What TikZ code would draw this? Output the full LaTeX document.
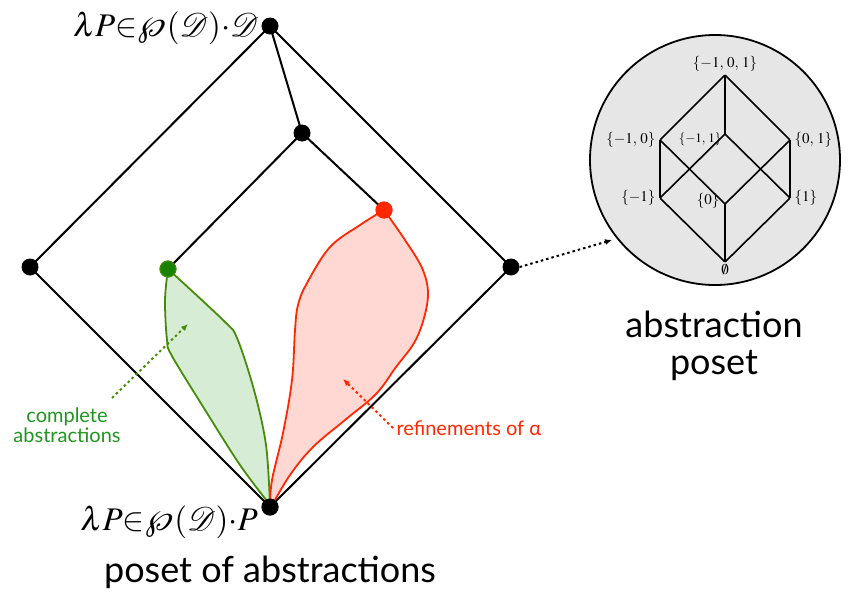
\documentclass[tikz,border=0pt]{standalone}
\usepackage{mathptmx}
\usepackage[no-math]{fontspec}
\setsansfont{Lato}
\usetikzlibrary{arrows.meta}
\definecolor{cgreen}{RGB}{70,140,10}
\definecolor{cgreenfill}{RGB}{214,236,212}
\definecolor{cgreentext}{RGB}{30,150,30}
\definecolor{cgreendot}{RGB}{25,130,0}
\definecolor{cred}{RGB}{255,40,0}
\definecolor{credfill}{RGB}{255,216,212}
\definecolor{cgray}{RGB}{230,230,230}
\tikzset{
  edge/.style={line width=2pt, black},
  dotnode/.style={circle, fill=black, inner sep=0pt, minimum size=17pt},
  cedge/.style={line width=1.6pt, black},
  vtx/.style={inner sep=0pt, minimum size=0pt},
  small/.style={font=\fontsize{15}{17}\selectfont},
  dotarrow/.style={line width=2pt, dash pattern=on 2.5pt off 3pt, -{Latex[length=7pt,width=6pt]}},
  big/.style={font=\sffamily\fontsize{36}{37}\selectfont, align=center},
  lbl/.style={font=\sffamily\fontsize{20}{24}\selectfont, align=center},
  mlabel/.style={font=\fontsize{33}{36}\selectfont, anchor=east, inner sep=0pt}
}
\begin{document}
\begin{tikzpicture}[x=1pt,y=-1pt]
\useasboundingbox (0,0) rectangle (848,592);
% regions
\fill[cgreenfill] plot[smooth, tension=0.55] coordinates {(270,505) (266,445) (254,390) (237,338) (224,321) (168,269)}
  -- plot[smooth, tension=0.55] coordinates {(168,269) (165,300) (167,340) (172,356) (207,413) (240,465) (270,505)} -- cycle;
\fill[credfill] plot[smooth, tension=0.6] coordinates {(270,507) (272,480) (283,433) (292,380) (295,330) (298,305) (307,283) (330,247) (360,225) (384,210)}
  -- plot[smooth, tension=0.6] coordinates {(384,210) (405,240) (422,268) (428,292) (424,318) (414,343) (396,367) (376,394) (345,420) (313,447) (290,475) (271,507)} -- cycle;
% nodes
\node[dotnode] (top) at (270,26) {};
\node[dotnode] (mid) at (302,133) {};
\node[dotnode] (left) at (30,267) {};
\node[dotnode] (right) at (511,267) {};
\node[dotnode] (bot) at (270,507) {};
\node[circle, fill=cgreendot, draw=cgreen, line width=1pt, inner sep=0pt, minimum size=16pt] (g) at (168,269) {};
\node[circle, fill=cred, inner sep=0pt, minimum size=17pt] (r) at (384,210) {};
% lattice edges
\draw[edge] (top.center) -- (left.center) -- (bot.center) -- (right.center) -- (top.center);
\draw[edge] (top.center) -- (mid.center);
\draw[edge] (mid.center) -- (g.center);
\draw[edge] (mid.center) -- (r.center);
% region outlines
\draw[cgreen, line width=1.8pt, line join=round] plot[smooth, tension=0.55] coordinates {(270,505) (266,445) (254,390) (237,338) (224,321) (168,269)}
  -- plot[smooth, tension=0.55] coordinates {(168,269) (165,300) (167,340) (172,356) (207,413) (240,465) (270,505)};
\draw[cred, line width=1.8pt, line join=round] plot[smooth, tension=0.6] coordinates {(270,507) (272,480) (283,433) (292,380) (295,330) (298,305) (307,283) (330,247) (360,225) (384,210)}
  -- plot[smooth, tension=0.6] coordinates {(384,210) (405,240) (422,268) (428,292) (424,318) (414,343) (396,367) (376,394) (345,420) (313,447) (290,475) (271,507)};
% redraw dots on top
\node[dotnode] at (bot) {};
\node[circle, fill=cgreendot, draw=cgreen, line width=1pt, inner sep=0pt, minimum size=16pt] at (g) {};
\node[circle, fill=cred, inner sep=0pt, minimum size=17pt] at (r) {};
% math labels
\node[mlabel] (tl) at (259,28) {$\lambda P{\in}\wp\mkern2mu(\mathcal{D}){\cdot}\mathcal{D}$};
\node[mlabel] (bl) at (258,522) {$\lambda P{\in}\wp\mkern2mu(\mathcal{D}){\cdot}P$};
% annotations
\node[lbl, text=cgreentext] (ca) at (67,425) {complete\\[-4pt]abstractions};
\coordinate (ga) at (188,324);
\coordinate (gs) at (112,398);
\draw[dotarrow, cgreen] (gs) -- (ga);
\node[lbl, text=cred, anchor=west] (ra) at (393,428) {refinements of α};
\coordinate (rh) at (343,379);
\draw[dotarrow, cred] (ra.west) -- (rh);
% circle
\node[circle, draw=black, line width=1.8pt, fill=cgray, minimum size=250pt, inner sep=0pt] (circ) at (715,160) {};
\coordinate (ch) at (612,240);
\draw[dotarrow, black] (right.east) -- (ch);
\node[vtx] (c111) at (725,75) {};
\node[vtx] (cm10) at (660,140) {};
\node[vtx] (cm11) at (725,134) {};
\node[vtx] (c01) at (790,140) {};
\node[vtx] (cm1) at (660,198) {};
\node[vtx] (c0) at (725,204) {};
\node[vtx] (c1) at (790,198) {};
\node[vtx] (ce) at (725,262) {};
\draw[cedge] (c111) -- (cm10) -- (cm1) -- (ce) -- (c1) -- (c01) -- (c111) -- (cm11);
\draw[cedge] (cm11) -- (cm1);
\draw[cedge] (cm11) -- (c1);
\draw[cedge] (cm10) -- (c0);
\draw[cedge] (c01) -- (c0);
\draw[cedge] (c0) -- (ce);
\node[small, anchor=south] at (c111.north) {$\{-1,\,0,\,1\}$};
\node[small, anchor=east] at ([xshift=-1pt]cm10) {$\{-1,\,0\}$};
\node[small, anchor=east, font=\fontsize{13}{15}\selectfont] at ([xshift=0pt,yshift=-5pt]cm11) {$\{-1,\,1\}$};
\node[small, anchor=west] at ([xshift=1pt]c01) {$\{0,\,1\}$};
\node[small, anchor=east] at ([xshift=-1pt]cm1) {$\{-1\}$};
\node[small, anchor=east] at ([xshift=-2pt,yshift=3pt]c0) {$\{0\}$};
\node[small, anchor=west] at ([xshift=1pt]c1) {$\{1\}$};
\node[small, anchor=north] at ([yshift=1pt]ce) {$\emptyset$};
% big labels
\node[big] (ap) at (714,346) {abstraction\\poset};
\node[big] (pa) at (270,572) {poset of abstractions};
\end{tikzpicture}
\end{document}
